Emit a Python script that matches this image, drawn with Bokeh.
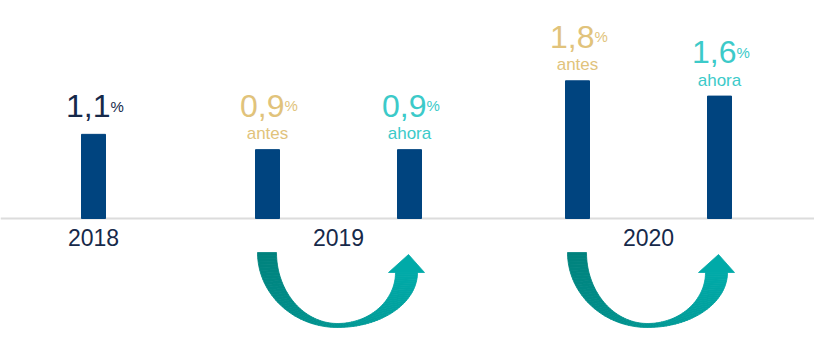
import numpy as np
from bokeh.plotting import figure
from bokeh.models import Range1d, Span, ColumnDataSource
from bokeh.core.properties import value
from bokeh.embed import file_html
from bokeh.resources import INLINE

# ---- data ----
years = ["2018", "2019", "2019", "2020", "2020"]
series = ["", "antes", "ahora", "antes", "ahora"]
values = [1.1, 0.9, 0.9, 1.8, 1.6]
value_text = ["1,1", "0,9", "0,9", "1,8", "1,6"]
year_labels = ["2018", "2019", "2020"]

# ---- layout ----
W, H = 814, 357
BASE = 218          # baseline, px from top
S = 76.5            # px per unit
slots = [93, 267, 409, 577, 719]
FONT = "Liberation Sans"
BAR = "#00447f"
NAVY = "#16294a"
COL = {"": NAVY, "antes": "#e1c37b", "ahora": "#3ccac9"}

p = figure(width=W, height=H, x_range=Range1d(0, W),
           y_range=Range1d(-(H - BASE) / S, BASE / S),
           toolbar_location=None, output_backend="svg", min_border=0)
p.axis.visible = False
p.grid.visible = False
p.outline_line_color = None
p.background_fill_color = "white"
p.border_fill_color = "white"

p.add_layout(Span(location=0, dimension="width", line_color="#dcdcdc",
                  line_width=2, level="underlay"))

src = ColumnDataSource(dict(
    x=slots, top=values, series=series, txt=value_text,
    pct=["%"] * len(values),
    col=[COL[s] for s in series],
    ny=[v + (44 if s else 28) / S for v, s in zip(values, series)],
    nx=[x + 17 for x in slots],
))
p.vbar(x="x", top="top", bottom=0, width=24, color=BAR, source=src)

p.text(x="nx", y="ny", text="txt", text_color="col", source=src,
       text_font=value(FONT), text_font_size="32px",
       text_align="right", text_baseline="alphabetic")
p.text(x="nx", y="ny", text="pct", text_color="col", source=src,
       text_font=value(FONT), text_font_size="15px",
       text_align="left", text_baseline="alphabetic")
sub = [i for i, s in enumerate(series) if s]
p.text(x=[slots[i] for i in sub], y=[values[i] + 16 / S for i in sub],
       text=[series[i] for i in sub], text_color=[COL[series[i]] for i in sub],
       text_font=value(FONT), text_font_size="17px",
       text_align="center", text_baseline="alphabetic")

# year labels centred under their bars
yx = []
for y in year_labels:
    xs = [slots[i] for i, yy in enumerate(years) if yy == y]
    yx.append(sum(xs) / len(xs))
p.text(x=yx, y=[-19 / S] * len(yx), text=year_labels, text_color=NAVY,
       text_font=value(FONT), text_font_size="23px",
       text_align="center", text_baseline="alphabetic")

# ---- curved arrows from "antes" to "ahora" ----
c0 = np.array([0x00, 0x82, 0x7d])
c1 = np.array([0x00, 0xaa, 0xa8])


def hexc(c):
    return "#%02x%02x%02x" % tuple(int(round(v)) for v in c)


axs, ays, acol = [], [], []
for y in year_labels:
    idx = [i for i, yy in enumerate(years) if yy == y]
    if len(idx) != 2:
        continue
    cx, tx = slots[idx[0]], slots[idx[1]]
    mid = (cx + tx) / 2 - 1
    outer, inner = [], []
    n = 40
    for t in np.linspace(0, np.pi / 2, n):
        outer.append((mid - (mid - (cx - 10)) * np.cos(t), 34 + 75 * np.sin(t)))
        inner.append((mid - (mid - (cx + 9)) * np.cos(t), 34 + 71 * np.sin(t)))
    for t in np.linspace(0, np.pi / 2, n)[1:]:
        outer.append((mid + ((tx + 8) - mid) * np.sin(t), 54 + 55 * np.cos(t)))
        inner.append((mid + ((tx - 14) - mid) * np.sin(t), 54 + 51 * np.cos(t)))
    m = len(outer)
    for i in range(m - 1):
        poly = [outer[i], outer[i + 1], inner[i + 1], inner[i]]
        axs.append([q[0] for q in poly])
        ays.append([-q[1] / S for q in poly])
        acol.append(hexc(c0 + (c1 - c0) * i / (m - 2)))
    head = [(tx - 21, 54), (tx + 15, 54), (tx - 1, 36)]
    axs.append([q[0] for q in head])
    ays.append([-q[1] / S for q in head])
    acol.append(hexc(c1))

p.patches(xs=axs, ys=ays, fill_color=acol, line_color=acol, line_width=0.8)

open("out.html", "w").write(file_html(p, INLINE))
